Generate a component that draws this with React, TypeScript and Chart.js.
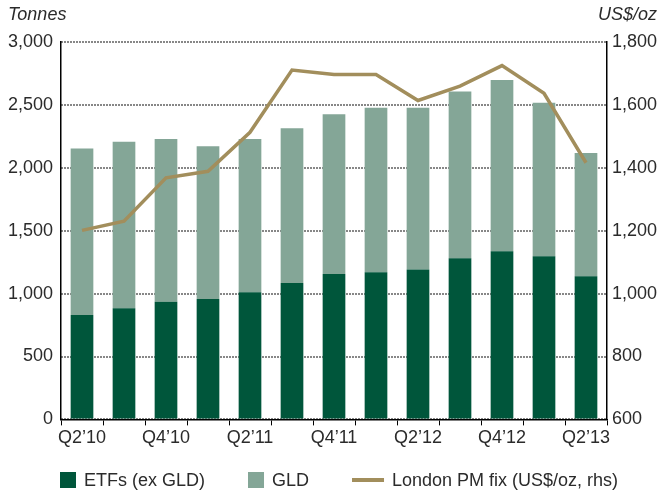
import React, { useEffect, useRef } from "react";
import { Chart, registerables } from "chart.js";

Chart.register(...registerables);

const categories = [
  "Q2\u201910", "Q3\u201910", "Q4\u201910", "Q1\u201911", "Q2\u201911", "Q3\u201911", "Q4\u201911",
  "Q1\u201912", "Q2\u201912", "Q3\u201912", "Q4\u201912", "Q1\u201913", "Q2\u201913",
];
const etfsExGld = [830, 883, 936, 957, 1010, 1085, 1156, 1170, 1191, 1281, 1337, 1297, 1138];
const gld = [1324, 1324, 1292, 1215, 1218, 1230, 1269, 1307, 1286, 1326, 1361, 1220, 979];
const londonPmFix = [1201, 1230, 1368, 1389, 1513, 1711, 1697, 1697, 1614, 1660, 1725, 1637, 1416];

const seriesNames = ["ETFs (ex GLD)", "GLD", "London PM fix (US$/oz, rhs)"];
const leftAxisTitle = "Tonnes";
const rightAxisTitle = "US$/oz";

const COLORS = { etf: "#00563b", gld: "#84a697", line: "#a28e5c", text: "#2b2b2b" };
const FONT = "'Liberation Sans', Arial, sans-serif";

export default function App() {
  const ref = useRef<HTMLCanvasElement | null>(null);

  useEffect(() => {
    document.body.style.margin = "0";
    const canvas = ref.current;
    if (!canvas) return;

    const overlay = {
      id: "overlay",
      afterDraw(chart: any) {
        const ctx = chart.ctx;
        ctx.save();
        ctx.fillStyle = COLORS.text;
        ctx.font = `italic 18px ${FONT}`;
        ctx.textBaseline = "middle";
        ctx.textAlign = "left";
        ctx.fillText(leftAxisTitle, 8, 15);
        ctx.textAlign = "right";
        ctx.fillText(rightAxisTitle, 657, 15);

        // legend
        ctx.font = `18px ${FONT}`;
        ctx.textAlign = "left";
        const cy = 480;
        let x = 60;
        chart.data.datasets.forEach((ds: any) => {
          if (ds.type === "line") {
            ctx.strokeStyle = ds.borderColor;
            ctx.lineWidth = 4;
            ctx.beginPath();
            ctx.moveTo(x, cy);
            ctx.lineTo(x + 32, cy);
            ctx.stroke();
            x += 32 + 8;
          } else {
            ctx.fillStyle = ds.backgroundColor;
            ctx.fillRect(x, cy - 8, 16, 16);
            x += 16 + 8;
          }
          ctx.fillStyle = COLORS.text;
          ctx.fillText(ds.label, x, cy + 1);
          x += ctx.measureText(ds.label).width + 43;
        });
        ctx.restore();
      },
    };

    const chart = new Chart(canvas, {
      type: "bar",
      data: {
        labels: categories,
        datasets: [
          {
            label: seriesNames[0],
            data: etfsExGld,
            backgroundColor: COLORS.etf,
            yAxisID: "y",
            stack: "s",
            order: 1,
          },
          {
            label: seriesNames[1],
            data: gld,
            backgroundColor: COLORS.gld,
            yAxisID: "y",
            stack: "s",
            order: 1,
          },
          {
            type: "line",
            label: seriesNames[2],
            data: londonPmFix,
            yAxisID: "y1",
            borderColor: COLORS.line,
            backgroundColor: COLORS.line,
            borderWidth: 3.5,
            pointRadius: 0,
            tension: 0,
            order: 0,
          } as any,
        ],
      },
      options: {
        responsive: false,
        animation: false,
        maintainAspectRatio: false,
        layout: { padding: { top: 42, bottom: 44, left: 0, right: 0 } },
        plugins: { legend: { display: false }, tooltip: { enabled: false } },
        datasets: { bar: { barPercentage: 0.54, categoryPercentage: 1 } },
        scales: {
          x: {
            stacked: true,
            offset: true,
            grid: {
              display: true,
              offset: true,
              drawOnChartArea: false,
              drawTicks: true,
              tickLength: 6,
              color: "#000",
              lineWidth: 1,
            },
            border: { display: true, color: "#000", width: 1.5 },
            ticks: {
              autoSkip: false,
              maxRotation: 0,
              padding: 2,
              color: COLORS.text,
              font: { family: FONT, size: 18 },
              callback: (_v: any, i: number) => (i % 2 === 0 ? categories[i] : ""),
            },
          },
          y: {
            stacked: true,
            position: "left",
            min: 0,
            max: 3000,
            afterFit: (s: any) => { s.width = 61; },
            grid: { color: "#111", lineWidth: 2, drawTicks: false },
            border: { display: true, color: "#000", width: 1.5, dash: [1, 2] },
            ticks: {
              stepSize: 500,
              padding: 8,
              color: COLORS.text,
              font: { family: FONT, size: 18 },
              callback: (v: any) => Number(v).toLocaleString("en-US"),
            },
          },
          y1: {
            position: "right",
            min: 600,
            max: 1800,
            afterFit: (s: any) => { s.width = 55; },
            grid: { drawOnChartArea: false, drawTicks: false },
            border: { display: true, color: "#000", width: 1.5 },
            ticks: {
              stepSize: 200,
              padding: 5,
              color: COLORS.text,
              font: { family: FONT, size: 18 },
              callback: (v: any) => Number(v).toLocaleString("en-US"),
            },
          },
        },
      } as any,
      plugins: [overlay],
    });
    return () => chart.destroy();
  }, []);

  return (
    <div style={{ position: "absolute", left: 0, top: 0, width: 662, height: 495 }}>
      <canvas ref={ref} width={662} height={495} style={{ width: 662, height: 495 }} />
    </div>
  );
}
